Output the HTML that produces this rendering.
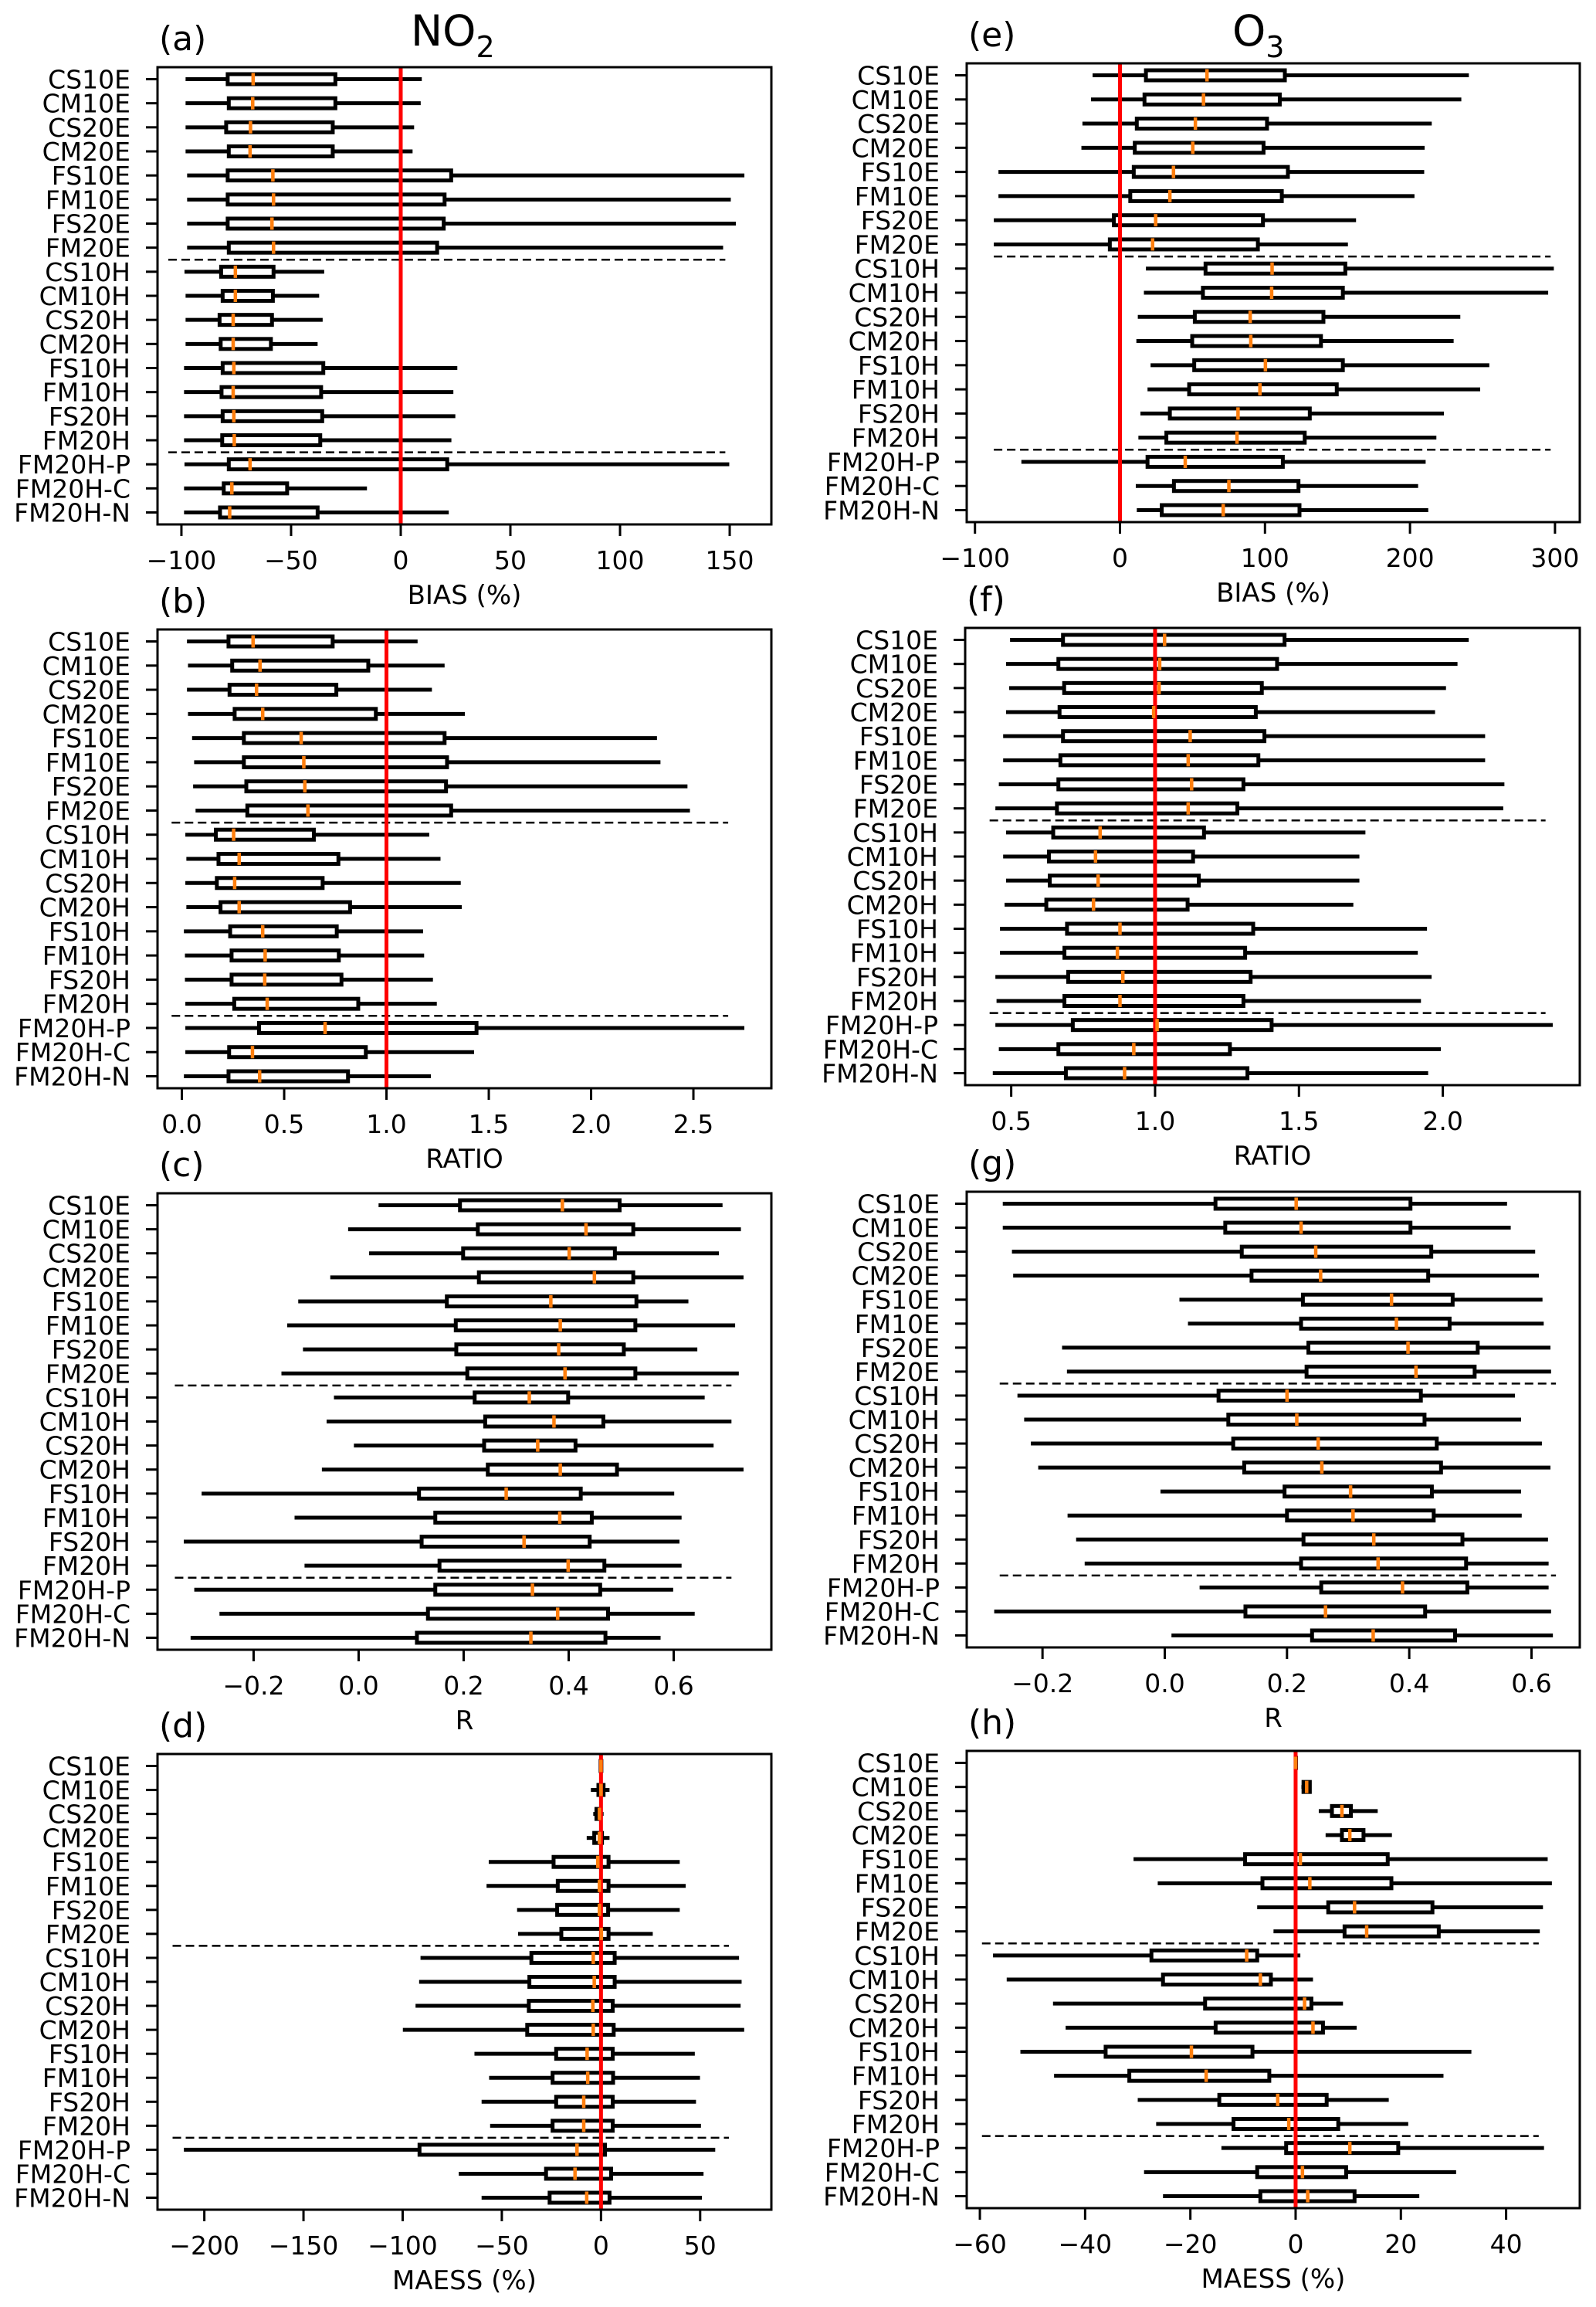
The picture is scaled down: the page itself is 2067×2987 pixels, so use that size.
<!DOCTYPE html>
<html><head><meta charset="utf-8"><title>NO2 and O3 evaluation box plots</title>
<style>
html,body{margin:0;padding:0;background:#fff;}
svg{display:block;font-family:"DejaVu Sans","Liberation Sans",sans-serif;}
</style></head>
<body>
<svg id="fig" xmlns="http://www.w3.org/2000/svg" width="2067" height="2987" viewBox="0 0 2067 2987">
<rect x="0" y="0" width="2067" height="2987" fill="#fff"/>
<text x="532" y="59" font-size="55">NO<tspan font-size="38" dy="15">2</tspan></text>
<text x="1596" y="59" font-size="55">O<tspan font-size="38" dy="15">3</tspan></text>
</svg>
<script>
const categories = ["CS10E","CM10E","CS20E","CM20E","FS10E","FM10E","FS20E","FM20E","CS10H","CM10H","CS20H","CM20H","FS10H","FM10H","FS20H","FM20H","FM20H-P","FM20H-C","FM20H-N"];

// [min, q1, median, q3, max]
const biasNO2 = [[-98.1,-78.9,-67.3,-29.8,9.6],[-98.1,-78.4,-67.5,-29.8,9.1],[-98.1,-79.6,-68.5,-31,6.1],[-98.1,-78.4,-68.7,-31,5.4],[-97.4,-78.9,-58.3,23.0,156.7],[-97.4,-78.9,-58.0,20.0,150.5],[-97.4,-78.9,-58.7,19.6,152.8],[-97.4,-78.4,-58.0,16.6,147.0],[-98.6,-81.9,-75.4,-58.0,-34.9],[-98.1,-81.2,-75.4,-58.3,-37.2],[-98.1,-82.6,-76.4,-58.7,-35.6],[-98.1,-82.1,-76.4,-59.2,-37.9],[-98.8,-81.2,-76.1,-35.3,25.8],[-98.8,-81.7,-76.4,-36.3,24.0],[-98.8,-81.2,-76.1,-35.8,24.9],[-98.8,-81.4,-75.9,-36.7,23.1],[-98.6,-78.4,-68.7,21.2,149.8],[-98.8,-80.7,-77.0,-51.8,-15.4],[-98.8,-82.4,-78.0,-37.9,21.9]];
const ratioNO2 = [[0.025,0.228,0.348,0.737,1.152],[0.030,0.246,0.382,0.911,1.284],[0.025,0.233,0.365,0.755,1.222],[0.030,0.258,0.395,0.948,1.383],[0.050,0.303,0.583,1.284,2.322],[0.060,0.303,0.596,1.296,2.339],[0.055,0.315,0.601,1.291,2.471],[0.067,0.320,0.616,1.316,2.483],[0.017,0.166,0.253,0.645,1.209],[0.022,0.179,0.280,0.765,1.264],[0.017,0.171,0.258,0.688,1.363],[0.022,0.189,0.280,0.822,1.368],[0.010,0.236,0.395,0.757,1.179],[0.015,0.243,0.407,0.767,1.184],[0.015,0.243,0.405,0.780,1.227],[0.017,0.256,0.417,0.862,1.246],[0.017,0.377,0.700,1.440,2.749],[0.017,0.231,0.345,0.899,1.428],[0.010,0.228,0.380,0.812,1.217]];
const rNO2 = [[0.038,0.193,0.388,0.497,0.693],[-0.020,0.227,0.433,0.523,0.728],[0.020,0.199,0.401,0.488,0.686],[-0.054,0.229,0.449,0.523,0.733],[-0.115,0.168,0.366,0.529,0.628],[-0.136,0.185,0.384,0.527,0.717],[-0.106,0.186,0.381,0.505,0.645],[-0.147,0.207,0.393,0.527,0.724],[-0.047,0.221,0.325,0.399,0.659],[-0.061,0.241,0.372,0.466,0.710],[-0.009,0.239,0.341,0.413,0.676],[-0.070,0.246,0.384,0.492,0.733],[-0.299,0.115,0.281,0.423,0.601],[-0.122,0.146,0.383,0.444,0.615],[-0.333,0.120,0.315,0.440,0.611],[-0.103,0.154,0.399,0.468,0.615],[-0.313,0.146,0.331,0.460,0.599],[-0.265,0.132,0.379,0.475,0.640],[-0.320,0.111,0.328,0.470,0.575]];
const maessNO2 = [[-0.5,-0.2,0,0.2,0.5],[-5.1,-1.3,0,1.3,4.3],[-3.9,-2.3,-0.8,-0.3,1.3],[-7.2,-3.4,-0.8,0.5,4.3],[-56.6,-23.9,-1.6,3.8,39.7],[-57.7,-21.8,-0.8,3.8,42.7],[-42.3,-22.1,-0.8,3.6,39.7],[-41.8,-20.0,0.2,3.8,26.1],[-91.0,-35.1,-3.9,6.9,69.6],[-91.7,-36.1,-3.4,6.9,70.9],[-93.5,-36.4,-4.1,5.9,70.4],[-99.9,-37.2,-3.9,6.4,72.2],[-63.8,-22.6,-7.0,5.9,47.3],[-56.4,-24.4,-6.7,6.1,49.9],[-60.2,-22.6,-8.7,5.9,47.9],[-55.9,-24.4,-8.7,5.9,50.4],[-210.3,-91.5,-12.1,2.0,57.6],[-71.7,-27.7,-13.1,5.1,51.7],[-60.2,-25.9,-7.2,4.3,50.9]];
const biasO3 = [[-18.9,17.9,60.0,113.7,240.6],[-20,16.9,57.6,110.2,235.4],[-25.9,11.6,52.0,101.4,215.0],[-26.6,10.2,50.2,99.0,210.1],[-83.8,9.5,36.9,115.8,209.8],[-83.8,7.1,34.4,111.6,203.1],[-87.0,-4.2,24.6,98.6,162.8],[-87.0,-7.0,22.5,95.1,157.2],[17.9,59.0,104.9,155.4,299.2],[16.5,57.2,104.6,153.7,295.3],[12.3,51.6,89.8,140.3,234.7],[11.3,49.8,90.2,138.6,230.1],[21.1,51.2,100.3,153.7,254.7],[19.0,47.7,96.5,149.5,248.4],[14.1,34.4,81.4,130.9,223.4],[12.7,32.0,80.7,127.4,218.2],[-68.0,19.0,45.0,112.3,210.8],[10.9,37.2,75.1,123.1,205.6],[11.6,28.8,71.2,123.8,212.6]];
const ratioO3 = [[0.496,0.680,1.033,1.450,2.090],[0.482,0.664,1.016,1.424,2.051],[0.493,0.684,1.014,1.371,2.011],[0.482,0.668,0.995,1.350,1.973],[0.472,0.680,1.122,1.380,2.147],[0.472,0.671,1.115,1.359,2.147],[0.457,0.664,1.127,1.307,2.214],[0.445,0.659,1.115,1.286,2.210],[0.482,0.646,0.809,1.170,1.731],[0.472,0.631,0.793,1.132,1.710],[0.482,0.634,0.802,1.152,1.710],[0.477,0.622,0.786,1.113,1.689],[0.461,0.694,0.878,1.341,1.945],[0.461,0.685,0.869,1.313,1.913],[0.445,0.698,0.888,1.332,1.961],[0.449,0.685,0.878,1.307,1.924],[0.445,0.714,1.007,1.405,2.382],[0.457,0.664,0.926,1.260,1.993],[0.436,0.690,0.894,1.321,1.949]];
const rO3 = [[-0.265,0.083,0.215,0.402,0.560],[-0.265,0.099,0.223,0.402,0.566],[-0.250,0.126,0.247,0.436,0.606],[-0.248,0.142,0.255,0.431,0.612],[0.024,0.226,0.371,0.471,0.618],[0.038,0.223,0.379,0.466,0.620],[-0.168,0.235,0.398,0.512,0.631],[-0.160,0.232,0.411,0.507,0.632],[-0.241,0.088,0.200,0.419,0.573],[-0.230,0.104,0.216,0.425,0.583],[-0.219,0.112,0.251,0.445,0.617],[-0.207,0.130,0.257,0.452,0.631],[-0.007,0.196,0.304,0.437,0.583],[-0.159,0.200,0.308,0.440,0.584],[-0.145,0.227,0.342,0.487,0.627],[-0.131,0.223,0.349,0.493,0.628],[0.057,0.256,0.389,0.495,0.628],[-0.279,0.132,0.263,0.426,0.632],[0.011,0.241,0.341,0.475,0.635]];
const maessO3 = [[-0.1,0,0,0,0.1],[1.1,1.5,2.1,2.7,2.8],[4.4,6.9,8.8,10.5,15.6],[5.7,8.8,10.3,12.9,18.3],[-30.8,-9.6,0.9,17.5,47.9],[-26.2,-6.3,2.7,18.2,48.7],[-7.3,6.2,11.2,26.0,47.0],[-4.2,9.3,13.5,27.2,46.4],[-57.5,-27.4,-9.3,-7.3,0.9],[-54.9,-25.2,-6.7,-4.7,3.3],[-46.1,-17.2,1.7,3.0,9.0],[-43.7,-15.2,3.3,5.2,11.6],[-52.3,-36.1,-19.8,-8.2,33.4],[-45.9,-31.6,-17.0,-5.0,28.1],[-30.0,-14.5,-3.4,5.9,17.7],[-26.5,-11.8,-1.3,8.1,21.4],[-14.1,-1.8,10.3,19.5,47.2],[-28.8,-7.3,1.3,9.6,30.5],[-25.2,-6.7,2.3,11.2,23.5]];

const ticksBiasNO2 = [-100,-50,0,50,100,150];
const ticksBiasO3 = [-100,0,100,200,300];
const ticksRatioNO2 = [0,0.5,1.0,1.5,2.0,2.5];
const ticksRatioO3 = [0.5,1.0,1.5,2.0];
const ticksR = [-0.2,0,0.2,0.4,0.6];
const ticksMaessNO2 = [-200,-150,-100,-50,0,50];
const ticksMaessO3 = [-60,-40,-20,0,20,40];

const NS = "http://www.w3.org/2000/svg";
const svg = document.getElementById("fig");
function mk(tag, attrs, parent){
  const e = document.createElementNS(NS, tag);
  for (const k in attrs) e.setAttribute(k, attrs[k]);
  (parent||svg).appendChild(e);
  return e;
}
function fmt(v, dec){
  const s = Math.abs(v).toFixed(dec);
  return (v < 0 ? "\u2212" : "") + s;
}

const panels = [
  {id:"a", data:biasNO2, left:204, right:999, top:87, bottom:679, xlim:[-110.9,169.0], ticks:ticksBiasNO2, dec:0, ref:0, dash:[-106,148], xlabel:"BIAS (%)"},
  {id:"b", data:ratioNO2, left:204, right:999, top:815, bottom:1409, xlim:[-0.119,2.881], ticks:ticksRatioNO2, dec:1, ref:1, dash:[-0.05,2.67], xlabel:"RATIO"},
  {id:"c", data:rNO2, left:204, right:999, top:1545, bottom:2136, xlim:[-0.383,0.786], ticks:ticksR, dec:1, ref:null, dash:[-0.35,0.71], xlabel:"R"},
  {id:"d", data:maessNO2, left:204, right:999, top:2271, bottom:2861, xlim:[-223.6,85.9], ticks:ticksMaessNO2, dec:0, ref:0, dash:[-216,64.5], xlabel:"MAESS (%)"},
  {id:"e", data:biasO3, left:1252, right:2046, top:82, bottom:676, xlim:[-105.7,317.1], ticks:ticksBiasO3, dec:0, ref:0, dash:[-87,297], xlabel:"BIAS (%)"},
  {id:"f", data:ratioO3, left:1250, right:2046, top:813, bottom:1405, xlim:[0.340,2.476], ticks:ticksRatioO3, dec:1, ref:1, dash:[0.425,2.357], xlabel:"RATIO"},
  {id:"g", data:rO3, left:1252, right:2046, top:1543, bottom:2133, xlim:[-0.324,0.679], ticks:ticksR, dec:1, ref:null, dash:[-0.27,0.64], xlabel:"R"},
  {id:"h", data:maessO3, left:1252, right:2046, top:2267, bottom:2859, xlim:[-62.5,54.0], ticks:ticksMaessO3, dec:0, ref:0, dash:[-59.6,46.2], xlabel:"MAESS (%)"}
];

panels.forEach(p => {
  const g = mk("g", {});
  
  
  const sx = v => p.left + (v - p.xlim[0]) / (p.xlim[1] - p.xlim[0]) * (p.right - p.left);
  const step = (p.bottom - p.top - 31) / (categories.length - 1);
  const sy = i => p.top + 15.5 + i * step;

  // panel label
  const lab = mk("text", {x:p.left + 2, y:p.top - 22, "font-size":44}, g);
  lab.textContent = "(" + p.id + ")";
  
  

  // y ticks and labels
  categories.forEach((c, i) => {
    const y = sy(i);
    const t = mk("line", {x1:p.left - 15, x2:p.left, y1:y, y2:y, stroke:"#000", "stroke-width":3}, g);
    
    
    const tl = mk("text", {x:p.left - 35, y:y + 12, "font-size":33, "text-anchor":"end"}, g);
    tl.textContent = c;
    
    
  });

  // x ticks
  p.ticks.forEach(v => {
    const x = sx(v);
    const t = mk("line", {x1:x, x2:x, y1:p.bottom, y2:p.bottom + 15, stroke:"#000", "stroke-width":3}, g);
    
    
    const tl = mk("text", {x:x, y:p.bottom + 58, "font-size":33, "text-anchor":"middle"}, g);
    tl.textContent = fmt(v, p.dec);
    
    
  });

  const xl = mk("text", {x:(p.left + p.right) / 2, y:p.bottom + 103, "font-size":34, "text-anchor":"middle"}, g);
  xl.textContent = p.xlabel;
  
  

  // dashed separators
  [7.5, 15.5].forEach(k => {
    const y = sy(k);
    const d = mk("line", {x1:sx(p.dash[0]), x2:sx(p.dash[1]), y1:y, y2:y, stroke:"#000", "stroke-width":2.5, "stroke-dasharray":"11,6"}, g);
    
    
  });

  // boxes
  p.data.forEach((b, i) => {
    const y = sy(i);
    const w1 = mk("line", {x1:sx(b[0]), x2:sx(b[1]), y1:y, y2:y, stroke:"#000", "stroke-width":5}, g);
    
    
    const w2 = mk("line", {x1:sx(b[3]), x2:sx(b[4]), y1:y, y2:y, stroke:"#000", "stroke-width":5}, g);
    
    
    const r = mk("rect", {x:sx(b[1]), y:y - 6.5, width:Math.max(0.5, sx(b[3]) - sx(b[1])), height:13, fill:"none", stroke:"#000", "stroke-width":5}, g);
    
    
  });

  if (p.ref !== null) {
    const rl = mk("line", {x1:sx(p.ref), x2:sx(p.ref), y1:p.top, y2:p.bottom, stroke:"#ff0000", "stroke-width":5}, g);
    
    
  }

  p.data.forEach((b, i) => {
    const y = sy(i);
    const m = mk("line", {x1:sx(b[2]), x2:sx(b[2]), y1:y - 8, y2:y + 8, stroke:"#ff7f0e", "stroke-width":4.5}, g);
    
    
  });

  const fr = mk("rect", {x:p.left, y:p.top, width:p.right - p.left, height:p.bottom - p.top, fill:"none", stroke:"#000", "stroke-width":3}, g);
  
  
});
</script>
</body></html>
